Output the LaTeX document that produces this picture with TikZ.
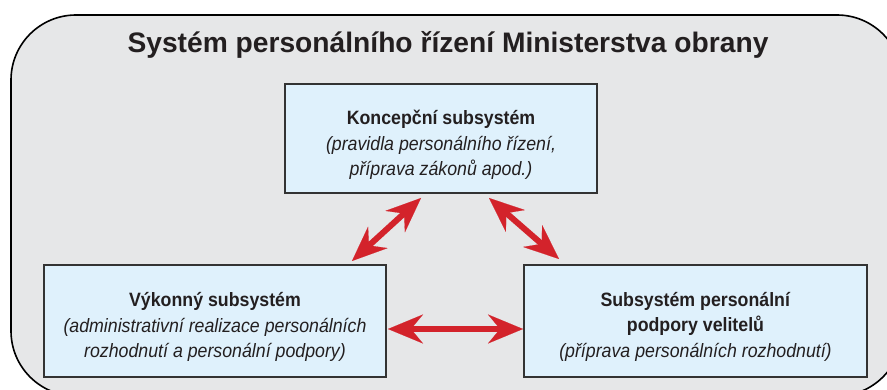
\documentclass[tikz,border=0pt]{standalone}
\usepackage{fontspec}
\setmainfont{Liberation Sans}
\newfontfamily\boxfont[FakeStretch=0.92]{Liberation Sans}
\usetikzlibrary{arrows.meta}
\definecolor{outerbg}{HTML}{E6E7E8}
\definecolor{boxfill}{HTML}{DFF1FC}
\definecolor{boxline}{HTML}{333333}
\definecolor{arrowred}{HTML}{D3232B}
\definecolor{txt}{HTML}{231F20}
\tikzset{
  subbox/.style={draw=boxline, line width=2pt, fill=boxfill, inner sep=0pt},
  boxtext/.style={text=txt, align=center, inner sep=0pt, font=\boxfont\fontsize{19.3}{25.5}\selectfont},
  redtip/.tip={Stealth[length=35pt,width=29pt,inset=12pt,line width=0.1pt,fill=arrowred]},
  redarrow/.style={draw=arrowred, line width=6pt, redtip-redtip},
}
\begin{document}
\begin{tikzpicture}[x=1pt,y=-1pt]
\useasboundingbox (0,0) rectangle (887,390);
\begin{scope}
\clip (0,0) rectangle (887,390);
\draw[fill=outerbg, draw=black, line width=1.6pt, rounded corners=65pt] (11,15) rectangle (902,396);
\end{scope}
\node[text=txt, font=\fontsize{28.2}{32}\selectfont\bfseries] (title) at (448,45) {Systém personálního řízení Ministerstva obrany};
\node[subbox, minimum width=312pt, minimum height=109pt] (top) at (441,138.5) {};
\node[boxtext] (toptext) at (441,145) {\textbf{Koncepční subsystém}\\\textit{(pravidla personálního řízení,}\\\textit{příprava zákonů apod.)}};
\node[subbox, minimum width=342pt, minimum height=112pt] (left) at (215,321) {};
\node[boxtext] (lefttext) at (215,327) {\textbf{Výkonný subsystém}\\\textit{(administrativní realizace personálních}\\\textit{rozhodnutí a personální podpory)}};
\node[subbox, minimum width=343pt, minimum height=112pt] (right) at (695.5,321) {};
\node[boxtext] (righttext) at (695.5,326.5) {\textbf{Subsystém personální}\\\textbf{podpory velitelů}\\\textit{(příprava personálních rozhodnutí)}};
\coordinate (a1) at (352,261);
\coordinate (a2) at (421,198);
\coordinate (b1) at (489,198);
\coordinate (b2) at (559,259);
\coordinate (c1) at (388,329);
\coordinate (c2) at (523,329);
\draw[redarrow] (a1) -- (a2);
\draw[redarrow] (b1) -- (b2);
\draw[redarrow] (c1) -- (c2);
\end{tikzpicture}
\end{document}
